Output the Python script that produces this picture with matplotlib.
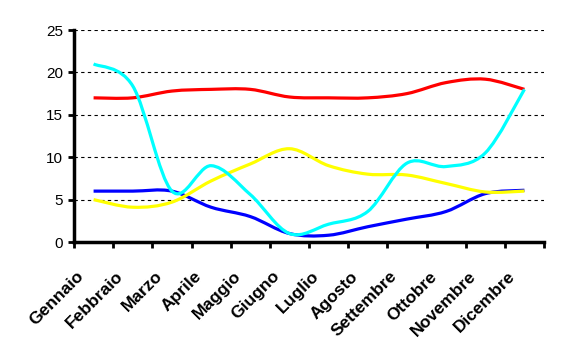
import numpy as np
import matplotlib
matplotlib.use('Agg')
import matplotlib.pyplot as plt
import matplotlib.transforms as mtransforms
from matplotlib.path import Path
from matplotlib.patches import PathPatch

plt.rcParams['font.family'] = ['Liberation Sans', 'DejaVu Sans']

mesi = ["Gennaio", "Febbraio", "Marzo", "Aprile", "Maggio", "Giugno",
        "Luglio", "Agosto", "Settembre", "Ottobre", "Novembre", "Dicembre"]

rosso = [17, 17, 17.8, 18, 18, 17.1, 17, 17, 17.5, 18.8, 19.2, 18]
blu = [6, 6, 6, 4.1, 3.0, 1.0, 0.8, 1.8, 2.7, 3.6, 5.7, 6.1]
giallo = [5, 4.1, 4.7, 7.2, 9.2, 11, 9.0, 8.0, 7.9, 6.9, 5.9, 6]
azzurro = [21, 18.4, 6.0, 9, 5.6, 1.0, 2.1, 3.6, 9.3, 8.9, 10.5, 18]


def smooth_path(x, y):
    # Catmull-Rom style bezier, as the spreadsheet "smoothed line" does
    x = np.asarray(x, float)
    y = np.asarray(y, float)
    n = len(x)
    verts = [(x[0], y[0])]
    codes = [Path.MOVETO]
    for i in range(n - 1):
        i0 = max(i - 1, 0)
        i3 = min(i + 2, n - 1)
        c1 = (x[i] + (x[i + 1] - x[i0]) / 6, y[i] + (y[i + 1] - y[i0]) / 6)
        c2 = (x[i + 1] - (x[i3] - x[i]) / 6, y[i + 1] - (y[i3] - y[i]) / 6)
        verts += [c1, c2, (x[i + 1], y[i + 1])]
        codes += [Path.CURVE4] * 3
    return Path(verts, codes)


fig = plt.figure(figsize=(5.63, 3.62), dpi=100)
ax = fig.add_axes([74 / 563, 120 / 362, 470 / 563, 212 / 362])

xs = np.arange(len(mesi)) + 0.5
for serie, col in [(rosso, '#FF0000'), (blu, '#0000FF'),
                   (giallo, '#FFFF00'), (azzurro, '#00FFFF')]:
    ax.add_patch(PathPatch(smooth_path(xs, serie), facecolor='none',
                           edgecolor=col, lw=2.3, capstyle='butt',
                           joinstyle='round', zorder=3))

ax.set_xlim(0, len(mesi))
ax.set_ylim(0, 25)
ax.set_yticks([0, 5, 10, 15, 20, 25])
for yv in [5, 10, 15, 20, 25]:
    ax.axhline(yv, color='black', lw=0.8, ls=(0, (3, 3)), zorder=1)

ax.set_xticks(np.arange(len(mesi) + 1))
ax.set_xticklabels([])
ax.set_xticks(xs, minor=True)
ax.set_xticklabels(mesi, minor=True, rotation=45, ha='right',
                   va='center', rotation_mode='anchor',
                   fontsize=12.5, fontweight='bold')
ax.tick_params(axis='x', which='minor', length=0, pad=23)
ax.tick_params(axis='both', which='major', direction='out', length=4,
               width=2, labelsize=11)
ax.tick_params(axis='y', pad=4)

# spreadsheet puts the rotated labels a bit left of the category centre
shift = mtransforms.ScaledTranslation(-12 / 100, 0, fig.dpi_scale_trans)
for lab in ax.get_xticklabels(minor=True):
    lab.set_transform(lab.get_transform() + shift)

for s in ['top', 'right']:
    ax.spines[s].set_visible(False)
for s in ['left', 'bottom']:
    ax.spines[s].set_linewidth(2.5)

fig.savefig('out.png', dpi=100)
